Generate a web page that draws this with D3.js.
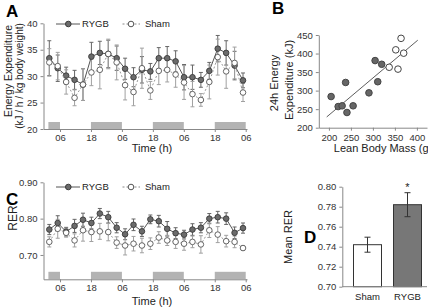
<!DOCTYPE html>
<html>
<head>
<meta charset="utf-8">
<script src="https://cdn.jsdelivr.net/npm/d3@7"></script>
<style>
body { margin: 0; background: #fff; }
svg { display: block; font-family: Arial, "Liberation Sans", sans-serif; }
.axis path, .axis line { stroke: #888; }
.axis text { fill: #333; font-size: 9.5px; font-family: Arial, "Liberation Sans", sans-serif; }
.letter { font-size: 17px; font-weight: bold; fill: #000; }
.label { fill: #222; }
</style>
</head>
<body>
<svg id="fig" width="428" height="307"></svg>
<script>
// 3-h bins over three days
const bins = d3.range(24);
const timeTicks = [6, 18, 30, 42, 54, 66, 78];
const timeTickLabels = ['06', '18', '06', '18', '06', '18', '06'];
const darkPeriods = [[1.5, 6], [18, 30], [42, 54], [66, 78]];

// panel A: energy expenditure (kJ/h/kg)
const eeRygb = [33.4, 31.5, 30.1, 29.3, 28.4, 33.7, 34.4, 34.2, 33.4, 31.4, 29.8, 31.2, 30.9, 33.4, 33.4, 32.8, 29.8, 29.8, 29.3, 31.0, 35.2, 34.4, 32.0, 29.2];
const eeRygbErr = [3.3, 2.5, 1.6, 1.8, 3.0, 2.7, 2.2, 2.6, 2.3, 2.0, 1.8, 2.5, 1.5, 2.0, 2.2, 2.0, 2.4, 2.3, 1.4, 1.6, 2.5, 2.3, 2.7, 1.4];
const eeSham = [32.6, 31.9, 28.9, 25.9, 28.4, 30.7, 31.2, 34.2, 32.6, 28.3, 27.0, 31.5, 27.3, 31.0, 31.2, 30.3, 28.8, 26.6, 25.5, 28.9, 33.6, 30.9, 32.5, 26.9];
const eeShamErr = [2.6, 2.6, 2.3, 1.5, 3.0, 2.5, 3.6, 2.8, 3.3, 2.8, 2.6, 3.8, 1.7, 2.6, 2.3, 2.4, 3.2, 2.4, 1.2, 3.2, 3.4, 3.2, 3.0, 1.7];
const eeTicks = [20, 25, 30, 35, 40];

// panel C: RER
const rerRygb = [0.770, 0.788, 0.764, 0.780, 0.797, 0.788, 0.814, 0.804, 0.775, 0.757, 0.783, 0.765, 0.798, 0.793, 0.772, 0.760, 0.756, 0.770, 0.775, 0.800, 0.804, 0.800, 0.761, 0.774];
const rerRygbErr = [0.014, 0.020, 0.012, 0.018, 0.018, 0.016, 0.014, 0.016, 0.014, 0.015, 0.016, 0.014, 0.012, 0.016, 0.020, 0.015, 0.012, 0.016, 0.014, 0.014, 0.016, 0.016, 0.016, 0.014];
const rerSham = [0.736, 0.772, 0.761, 0.740, 0.768, 0.763, 0.765, 0.763, 0.734, 0.726, 0.731, 0.726, 0.731, 0.748, 0.740, 0.736, 0.731, 0.736, 0.729, 0.768, 0.756, 0.738, 0.736, 0.719];
const rerShamErr = [0.014, 0.026, 0.012, 0.018, 0.030, 0.026, 0.022, 0.024, 0.016, 0.026, 0.020, 0.020, 0.016, 0.016, 0.014, 0.018, 0.018, 0.016, 0.024, 0.020, 0.022, 0.016, 0.016, 0.006];
const rerTicks = [0.70, 0.80, 0.90];

// panel B: lean body mass vs 24h EE
const lbmRygb = [205, 221, 230, 238, 241, 255, 291, 305, 311, 320];
const ee24Rygb = [284, 257, 259, 322, 241, 259, 294, 381, 324, 371];
const lbmSham = [337, 352, 357, 364, 370];
const ee24Sham = [363, 410, 358, 441, 401];
const fitSlope = 1.0;
const fitIntercept = 34;
const fitRange = [195, 402];
const lbmTicks = [200, 250, 300, 350, 400];
const ee24Ticks = [200, 250, 300, 350, 400, 450];

// panel D: mean RER
const groups = ['Sham', 'RYGB'];
const meanRer = [0.742, 0.782];
const meanRerErr = [0.0075, 0.012];
const meanRerTicks = [0.70, 0.72, 0.74, 0.76, 0.78, 0.80];

const svg = d3.select('#fig');

function letter(t, x, y) {
	svg.append('text').classed('letter', true).attr('x', x).attr('y', y).text(t);
}

function rotLabel(t, x, y, size) {
	svg.append('text').classed('label', true)
		.attr('transform', 'translate(' + x + ',' + y + ') rotate(-90)')
		.style('text-anchor', 'middle').style('font-size', size + 'px')
		.text(t);
}

function timePanel(opts) {
	let g = svg.append('g');
	let xBin = d3.scaleLinear().domain([0, 23]).range([49.3, 243]);
	let xTime = d3.scaleLinear().domain([-0.4, 78.5]).range([43.5, 247]);
	let y = opts.y;
	let yBase = y.range()[0];

	// dark periods
	g.selectAll('rect.dark')
		.data(darkPeriods)
		.enter()
		.append('rect')
		.attr('x', d => xTime(d[0]))
		.attr('width', d => xTime(d[1]) - xTime(d[0]))
		.attr('y', yBase - opts.barH)
		.attr('height', opts.barH)
		.style('fill', '#b3b3b3');

	g.append('g').classed('axis', true)
		.attr('transform', 'translate(43.5,0)')
		.call(d3.axisLeft(y).tickValues(opts.ticks).tickSize(3).tickSizeOuter(0).tickFormat(opts.fmt));

	g.append('g').classed('axis', true)
		.attr('transform', 'translate(0,' + yBase + ')')
		.call(d3.axisBottom(xTime).tickValues(timeTicks).tickSize(3).tickPadding(2).tickSizeOuter(0)
			.tickFormat((d, i) => timeTickLabels[i]));

	let series = [
		{ v: opts.rygb, e: opts.rygbErr, fill: '#6b6b6b', stroke: '#3a3a3a', line: '#555', dash: null, err: '#666' },
		{ v: opts.sham, e: opts.shamErr, fill: '#fff', stroke: '#555', line: '#999', dash: '2,2', err: '#a0a0a0' }
	];

	series.forEach(s => {
		let eb = g.append('g').style('stroke', s.err).style('stroke-width', 1);
		bins.forEach(i => {
			let x = xBin(i), top = y(s.v[i] + s.e[i]), bot = y(s.v[i] - s.e[i]);
			eb.append('line').attr('x1', x).attr('x2', x).attr('y1', top).attr('y2', bot);
			eb.append('line').attr('x1', x - 2).attr('x2', x + 2).attr('y1', top).attr('y2', top);
			eb.append('line').attr('x1', x - 2).attr('x2', x + 2).attr('y1', bot).attr('y2', bot);
		});
	});

	series.forEach(s => {
		g.append('path')
			.datum(bins)
			.attr('d', d3.line().x(i => xBin(i)).y(i => y(s.v[i])))
			.style('fill', 'none')
			.style('stroke', s.line)
			.style('stroke-width', 1)
			.style('stroke-dasharray', s.dash);
		g.selectAll(null)
			.data(bins)
			.enter()
			.append('circle')
			.attr('cx', i => xBin(i))
			.attr('cy', i => y(s.v[i]))
			.attr('r', 2.8)
			.style('fill', s.fill)
			.style('stroke', s.stroke)
			.style('stroke-width', 0.9);
	});

	// legend
	let ly = opts.legendY;
	g.append('line').attr('x1', 56).attr('x2', 80).attr('y1', ly).attr('y2', ly).style('stroke', '#555');
	g.append('circle').attr('cx', 68.3).attr('cy', ly).attr('r', 2.8).style('fill', '#6b6b6b').style('stroke', '#3a3a3a');
	g.append('text').attr('x', 82).attr('y', ly + 3.3).text('RYGB').style('font-size', '9.5px').style('fill', '#222');
	g.append('line').attr('x1', 122.5).attr('x2', 140).attr('y1', ly).attr('y2', ly)
		.style('stroke', '#888').style('stroke-dasharray', '2,2');
	g.append('circle').attr('cx', 131).attr('cy', ly).attr('r', 2.8).style('fill', '#fff').style('stroke', '#555');
	g.append('text').attr('x', 145).attr('y', ly + 3.3).text('Sham').style('font-size', '9.5px').style('fill', '#222');

	g.append('text').classed('label', true)
		.attr('x', 152).attr('y', opts.xLabelY)
		.style('text-anchor', 'middle').style('font-size', '11px')
		.text('Time (h)');
	return g;
}

// ---- A
letter('A', 6, 17);
timePanel({
	y: d3.scaleLinear().domain([20, 40]).range([129, 23.3]),
	ticks: eeTicks, fmt: d3.format('d'), barH: 7,
	rygb: eeRygb, rygbErr: eeRygbErr, sham: eeSham, shamErr: eeShamErr,
	legendY: 24, xLabelY: 152
});
rotLabel('Energy Expenditure', 12, 71, 10.5);
rotLabel('(kJ / h / kg body weight)', 22.5, 76, 10);

// ---- C
letter('C', 6, 205);
timePanel({
	y: d3.scaleLinear().domain([0.633, 0.90]).range([279.3, 182.3]),
	ticks: rerTicks, fmt: d3.format('.2f'), barH: 7.5,
	rygb: rerRygb, rygbErr: rerRygbErr, sham: rerSham, shamErr: rerShamErr,
	legendY: 187, xLabelY: 305
});
rotLabel('RER', 17, 218, 12);

// ---- B
letter('B', 272, 14);
let xB = d3.scaleLinear().domain([177, 423]).range([318.8, 427]);
let yB = d3.scaleLinear().domain([200, 450]).range([127.7, 35]);

svg.append('g').classed('axis', true)
	.attr('transform', 'translate(318.8,0)')
	.call(d3.axisLeft(yB).tickValues(ee24Ticks).tickSize(3).tickSizeOuter(0));
svg.append('g').classed('axis', true)
	.attr('transform', 'translate(0,127.7)')
	.call(d3.axisBottom(xB).tickValues(lbmTicks).tickSize(3).tickPadding(4).tickSizeOuter(0));

svg.append('line')
	.attr('x1', xB(fitRange[0])).attr('y1', yB(fitIntercept + fitSlope * fitRange[0]))
	.attr('x2', xB(fitRange[1])).attr('y2', yB(fitIntercept + fitSlope * fitRange[1]))
	.style('stroke', '#333').style('stroke-width', 0.8);

svg.selectAll('circle.rygbB')
	.data(lbmRygb)
	.enter()
	.append('circle')
	.classed('rygbB', true)
	.attr('cx', d => xB(d))
	.attr('cy', (d, i) => yB(ee24Rygb[i]))
	.attr('r', 3.3)
	.style('fill', '#666')
	.style('stroke', '#444');
svg.selectAll('circle.shamB')
	.data(lbmSham)
	.enter()
	.append('circle')
	.classed('shamB', true)
	.attr('cx', d => xB(d))
	.attr('cy', (d, i) => yB(ee24Sham[i]))
	.attr('r', 3.3)
	.style('fill', '#fff')
	.style('stroke', '#444');

rotLabel('24h Energy', 278, 83, 11);
rotLabel('Expenditure (kJ)', 293, 80, 11);
svg.append('text').classed('label', true)
	.attr('x', 383).attr('y', 152)
	.style('text-anchor', 'middle').style('font-size', '11px')
	.text('Lean Body Mass (g)');

// ---- D
letter('D', 304, 243);
let xD = d3.scalePoint().domain(groups).range([347.5, 427.5]).padding(0.5);
let yD = d3.scaleLinear().domain([0.70, 0.80]).range([286.7, 186.7]);
let barW = 28;

svg.append('g').classed('axis', true)
	.attr('transform', 'translate(342.3,0)')
	.call(d3.axisLeft(yD).tickValues(meanRerTicks).tickSize(3).tickSizeOuter(0).tickFormat(d3.format('.2f')));

svg.selectAll('rect.bar')
	.data(groups)
	.enter()
	.append('rect')
	.classed('bar', true)
	.attr('x', d => xD(d) - barW / 2)
	.attr('width', barW)
	.attr('y', (d, i) => yD(meanRer[i]))
	.attr('height', (d, i) => yD(0.70) - yD(meanRer[i]))
	.style('fill', (d, i) => i === 0 ? '#fff' : '#777')
	.style('stroke', '#333')
	.style('stroke-width', 1);

svg.append('line')
	.attr('x1', 342.3).attr('x2', 427).attr('y1', 286.7).attr('y2', 286.7)
	.style('stroke', '#888');

groups.forEach((gname, i) => {
	let x = xD(gname), top = yD(meanRer[i] + meanRerErr[i]), bot = yD(meanRer[i] - meanRerErr[i]);
	svg.append('line').attr('x1', x).attr('x2', x).attr('y1', top).attr('y2', bot).style('stroke', '#333');
	svg.append('line').attr('x1', x - 3).attr('x2', x + 3).attr('y1', top).attr('y2', top).style('stroke', '#333');
	svg.append('line').attr('x1', x - 3).attr('x2', x + 3).attr('y1', bot).attr('y2', bot).style('stroke', '#333');
	svg.append('text').classed('label', true)
		.attr('x', x).attr('y', 300)
		.style('text-anchor', 'middle').style('font-size', '9.5px')
		.text(gname);
});

svg.append('text').classed('label', true)
	.attr('x', xD('RYGB')).attr('y', yD(meanRer[1] + meanRerErr[1]) - 2)
	.style('text-anchor', 'middle').style('font-size', '11px')
	.text('*');

rotLabel('Mean RER', 292, 237, 11);
</script>
</body>
</html>
